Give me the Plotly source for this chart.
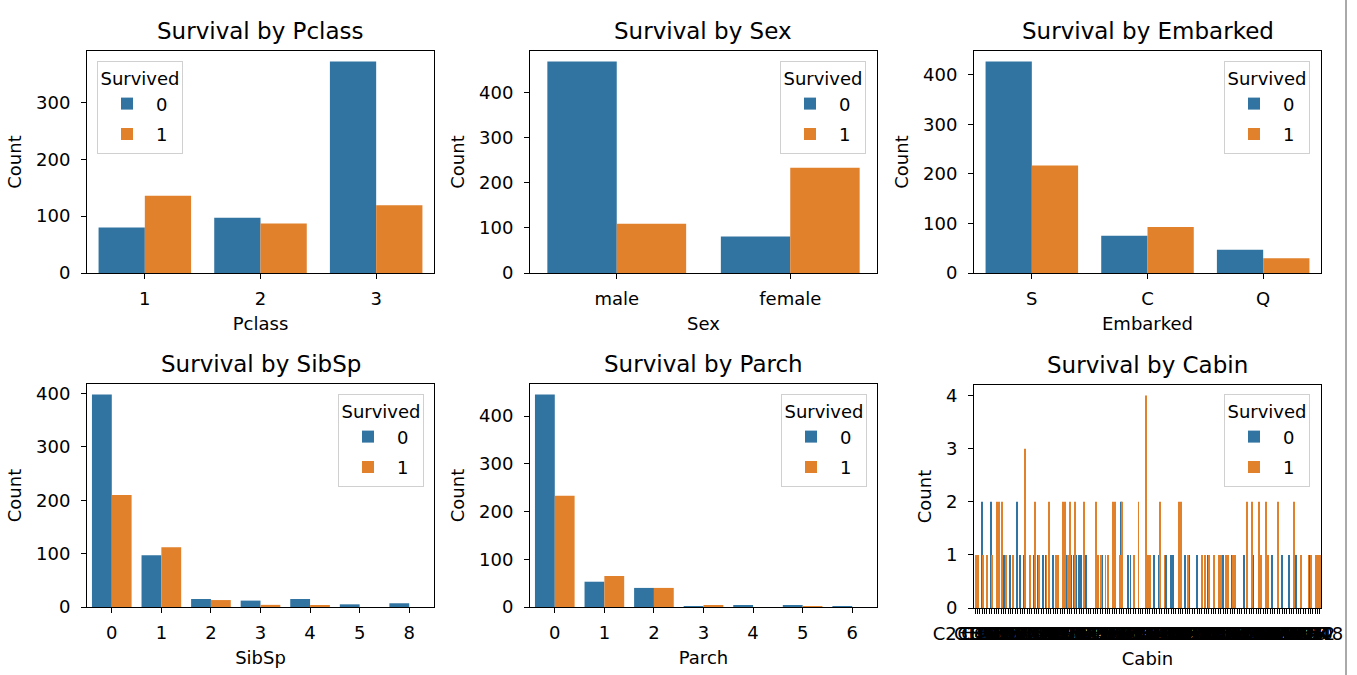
import plotly.graph_objects as go

W, H = 1357, 675
BLUE = "#3274a1"
ORANGE = "#e1812c"

# ---------------- data ----------------
pclass_cats = ["1", "2", "3"]
pclass_died = [80, 97, 372]
pclass_surv = [136, 87, 119]

sex_cats = ["male", "female"]
sex_died = [468, 81]
sex_surv = [109, 233]

emb_cats = ["S", "C", "Q"]
emb_died = [427, 75, 47]
emb_surv = [217, 93, 30]

sibsp_cats = ["0", "1", "2", "3", "4", "5", "8"]
sibsp_died = [398, 97, 15, 12, 15, 5, 7]
sibsp_surv = [210, 112, 13, 4, 3, 0, 0]

parch_cats = ["0", "1", "2", "3", "4", "5", "6"]
parch_died = [445, 53, 40, 2, 4, 4, 1]
parch_surv = [233, 65, 40, 3, 0, 1, 0]

cabin_cats = [
    "C85", "C123", "E46", "G6", "C103", "D56", "A6", "C23 C25 C27", "B78", "D33",
    "B30", "C52", "B28", "C83", "F33", "F G73", "E31", "A5", "D10 D12", "D26",
    "C110", "B58 B60", "E101", "F E69", "D47", "B86", "F2", "C2", "E33", "B19",
    "A7", "C49", "F4", "A32", "B4", "B80", "A31", "D36", "D15", "C93",
    "C78", "D35", "C87", "B77", "E67", "B94", "C125", "C99", "C118", "D7",
    "A19", "B49", "D", "C22 C26", "C106", "C65", "E36", "C54", "B57 B59 B63 B66", "C7",
    "E34", "C32", "B18", "C124", "C91", "E40", "T", "C128", "D37", "B35",
    "E50", "C82", "B96 B98", "E10", "E44", "A34", "C104", "C111", "C92", "E38",
    "D21", "E12", "E63", "A14", "B37", "C30", "D20", "B79", "E25", "D46",
    "B73", "C95", "B38", "B39", "B22", "C86", "C70", "A16", "C101", "C68",
    "A10", "E68", "B41", "A20", "D19", "D50", "D9", "A23", "B50", "A26",
    "D48", "E58", "C126", "B71", "B51 B53 B55", "D49", "B5", "B20", "F G63", "C62 C64",
    "E24", "C90", "C45", "E8", "B101", "D45", "C46", "D30", "E121", "D11",
    "E77", "F38", "B3", "D6", "B82 B84", "D17", "A36", "B102", "B69", "E49",
    "C47", "D28", "E17", "A24", "C50", "B42", "C148",
]
cabin_died = [
    0, 1, 0, 2, 0, 0, 0, 2, 0, 0,
    1, 0, 1, 1, 0, 1, 1, 0, 2, 1,
    0, 1, 0, 0, 0, 1, 0, 1, 0, 1,
    1, 0, 0, 1, 0, 0, 0, 0, 0, 1,
    0, 1, 1, 1, 1, 1, 0, 1, 0, 0,
    0, 0, 1, 0, 1, 0, 0, 0, 0, 0,
    0, 0, 2, 0, 0, 1, 1, 0, 0, 0,
    0, 0, 0, 0, 0, 0, 1, 0, 1, 0,
    0, 1, 0, 1, 1, 0, 0, 0, 0, 1,
    0, 1, 0, 0, 1, 0, 0, 0, 0, 1,
    0, 0, 0, 0, 0, 1, 0, 0, 0, 1,
    1, 0, 0, 0, 1, 0, 0, 0, 1, 0,
    0, 0, 0, 0, 0, 0, 1, 0, 0, 0,
    1, 0, 0, 1, 0, 0, 1, 0, 0, 0,
    0, 0, 1, 0, 0, 0, 0,
]
cabin_surv = [
    1, 1, 0, 1, 0, 1, 0, 1, 0, 2,
    2, 2, 0, 1, 0, 0, 1, 0, 0, 0,
    0, 3, 0, 1, 0, 2, 0, 1, 0, 0,
    1, 2, 0, 0, 1, 1, 0, 2, 2, 1,
    2, 0, 2, 0, 0, 0, 2, 0, 0, 0,
    0, 2, 1, 1, 0, 1, 1, 0, 2, 2,
    0, 1, 2, 0, 0, 0, 0, 1, 0, 2,
    0, 0, 4, 1, 1, 0, 0, 0, 2, 0,
    1, 0, 0, 0, 0, 0, 2, 2, 0, 0,
    1, 0, 0, 0, 0, 0, 1, 1, 0, 1,
    0, 1, 0, 1, 1, 0, 1, 1, 0, 1,
    1, 0, 0, 0, 0, 2, 0, 2, 0, 0,
    2, 1, 0, 2, 1, 0, 0, 0, 2, 0,
    0, 0, 0, 0, 0, 2, 0, 0, 1, 0,
    0, 1, 1, 0, 1, 1, 1,
]

panels = [
    ("Pclass", pclass_cats, pclass_died, pclass_surv),
    ("Sex", sex_cats, sex_died, sex_surv),
    ("Embarked", emb_cats, emb_died, emb_surv),
    ("SibSp", sibsp_cats, sibsp_died, sibsp_surv),
    ("Parch", parch_cats, parch_died, parch_surv),
    ("Cabin", cabin_cats, cabin_died, cabin_surv),
]

# pixel boxes of each axes (left, right, top, bottom)
boxes = [
    (87, 434, 51, 273), (530, 877, 51, 273), (974, 1321, 51, 273),
    (87, 434, 384, 607), (530, 877, 384, 607), (974, 1321, 385, 608),
]
# legend anchors (x px, y px, xanchor)
legend_pos = [
    (97, 61, "left"), (866, 61, "right"), (1310, 61, "right"),
    (424, 394, "right"), (867, 394, "right"), (1310, 394, "right"),
]

FONT = "DejaVu Sans"
FS = 18
fig = go.Figure()
layout = dict(
    width=W, height=H,
    margin=dict(l=0, r=0, t=0, b=0),
    paper_bgcolor="white", plot_bgcolor="white",
    font=dict(family=FONT, size=FS, color="black"),
    barmode="group", bargap=0.2, bargroupgap=0.0,
    annotations=[], shapes=[],
)

for i, ((name, cats, died, surv), (l, r, t, b), (lx, ly, lxa)) in enumerate(zip(panels, boxes, legend_pos)):
    k = "" if i == 0 else str(i + 1)
    leg = "legend" + k
    xa, ya = "x" + k, "y" + k
    fig.add_trace(go.Bar(x=cats, y=died, name="0", marker=dict(color=BLUE, line=dict(width=0)),
                         xaxis=xa, yaxis=ya, legend=leg, legendgroup="p%d_0" % i,
                         offsetgroup="0"))
    fig.add_trace(go.Bar(x=cats, y=surv, name="1", marker=dict(color=ORANGE, line=dict(width=0)),
                         xaxis=xa, yaxis=ya, legend=leg, legendgroup="p%d_1" % i,
                         offsetgroup="1"))
    ymax = max(max(died), max(surv)) * 1.05
    xaxis = dict(
        domain=[l / W, r / W], anchor=ya, type="category",
        categoryorder="array", categoryarray=cats,
        range=[-0.5, len(cats) - 0.5],
        showline=True, mirror=True, linecolor="black", linewidth=1,
        ticks="outside", ticklen=5, tickwidth=1, tickcolor="black",
        tickmode="array", tickvals=cats, ticktext=cats, tickangle=0,
        ticklabelstandoff=4,
        showgrid=False, zeroline=False,
        tickfont=dict(size=FS, color="black"),
        title=dict(text=name, font=dict(size=FS, color="black"), standoff=9),
        automargin=False,
    )
    yaxis = dict(
        domain=[1 - b / H, 1 - t / H], anchor=xa,
        range=[0, ymax],
        showline=True, mirror=True, linecolor="black", linewidth=1,
        ticks="outside", ticklen=5, tickwidth=1, tickcolor="black",
        ticklabelstandoff=7,
        showgrid=False, zeroline=False,
        tickfont=dict(size=FS, color="black"),
        title=dict(text="Count", font=dict(size=FS, color="black"), standoff=9),
        automargin=False,
        dtick=1 if name == "Cabin" else 100,
    )
    layout["xaxis" + k] = xaxis
    layout["yaxis" + k] = yaxis
    layout[leg] = dict(
        x=lx / W, y=1 - ly / H, xanchor=lxa, yanchor="top",
        xref="paper", yref="paper",
        bgcolor="rgba(255,255,255,0.85)", bordercolor="#d0d0d0", borderwidth=1,
        font=dict(size=FS, color="black"),
        title=dict(text="Survived", side="top center", font=dict(size=FS, color="black")),
        itemwidth=48, tracegroupgap=4,
    )
    layout["annotations"].append(dict(
        text="Survival by " + name, x=(l + r) / 2 / W, y=1 - (t - 20) / H,
        xref="paper", yref="paper", xanchor="center", yanchor="middle",
        showarrow=False, font=dict(size=23, color="black"),
    ))

layout["shapes"].append(dict(type="line", xref="paper", yref="paper",
                             x0=1346 / W, x1=1346 / W, y0=0, y1=1,
                             line=dict(color="#555555", width=1)))
fig.update_layout(**layout)
fig.write_html(
    "out.html",
    config={"displayModeBar": False},
    post_script="document.body.style.margin='0px';document.body.style.padding='0px';",
)
